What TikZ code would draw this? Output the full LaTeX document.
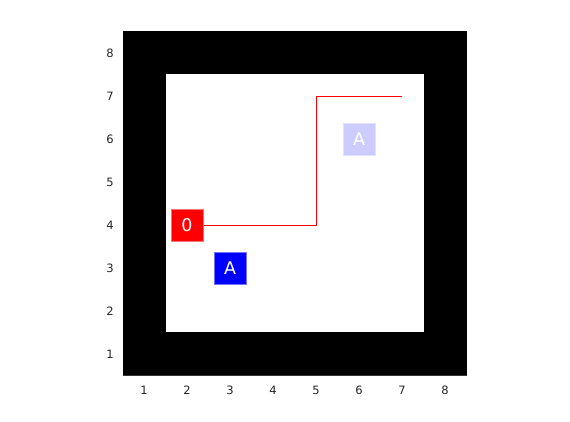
\documentclass[tikz,border=0pt]{standalone}
\usepackage{fontspec}
\setmainfont{DejaVu Sans}
\definecolor{lightA}{HTML}{CCCCFF}
\begin{document}
\begin{tikzpicture}[
  tick/.style={font=\fontsize{11.5pt}{12pt}\selectfont, text=black!85},
  cell/.style={minimum size=32pt, inner sep=0pt, text=white, font=\fontsize{17.5pt}{18pt}\selectfont},
]
\useasboundingbox (0,0) rectangle (570pt,422pt);
\begin{scope}[shift={(101pt,25pt)}, x=43pt, y=43pt]
  \fill[black] (0.5,0.5) rectangle (8.5,8.5);
  \fill[white] (1.5,1.5) rectangle (7.5,7.5);
  \draw[black!80, line width=0.6pt] (0.5,0.5) -- (8.5,0.5);
  \foreach \i in {1,...,8} {
    \node[tick, anchor=east] (yl\i) at (0.38,\i) {\i};
    \node[tick] (xl\i) at (\i,0.15) {\i};
  }
  \coordinate (p1) at (2,4);
  \coordinate (p2) at (5,4);
  \coordinate (p3) at (5,7);
  \coordinate (p4) at (7,7);
  \draw[red, line width=0.8pt] (p1) -- (p2) -- (p3) -- (p4);
  \node[cell, fill=red, draw=red!55!white, line width=0.5pt] (start) at (2,4) {0};
  \node[cell, fill=blue, draw=blue!55!white, line width=0.5pt] (a1) at (3,3) {A};
  \node[cell, fill=lightA, draw=lightA!60!white, line width=0.5pt] (a2) at (6,6) {A};
\end{scope}
\end{tikzpicture}
\end{document}
